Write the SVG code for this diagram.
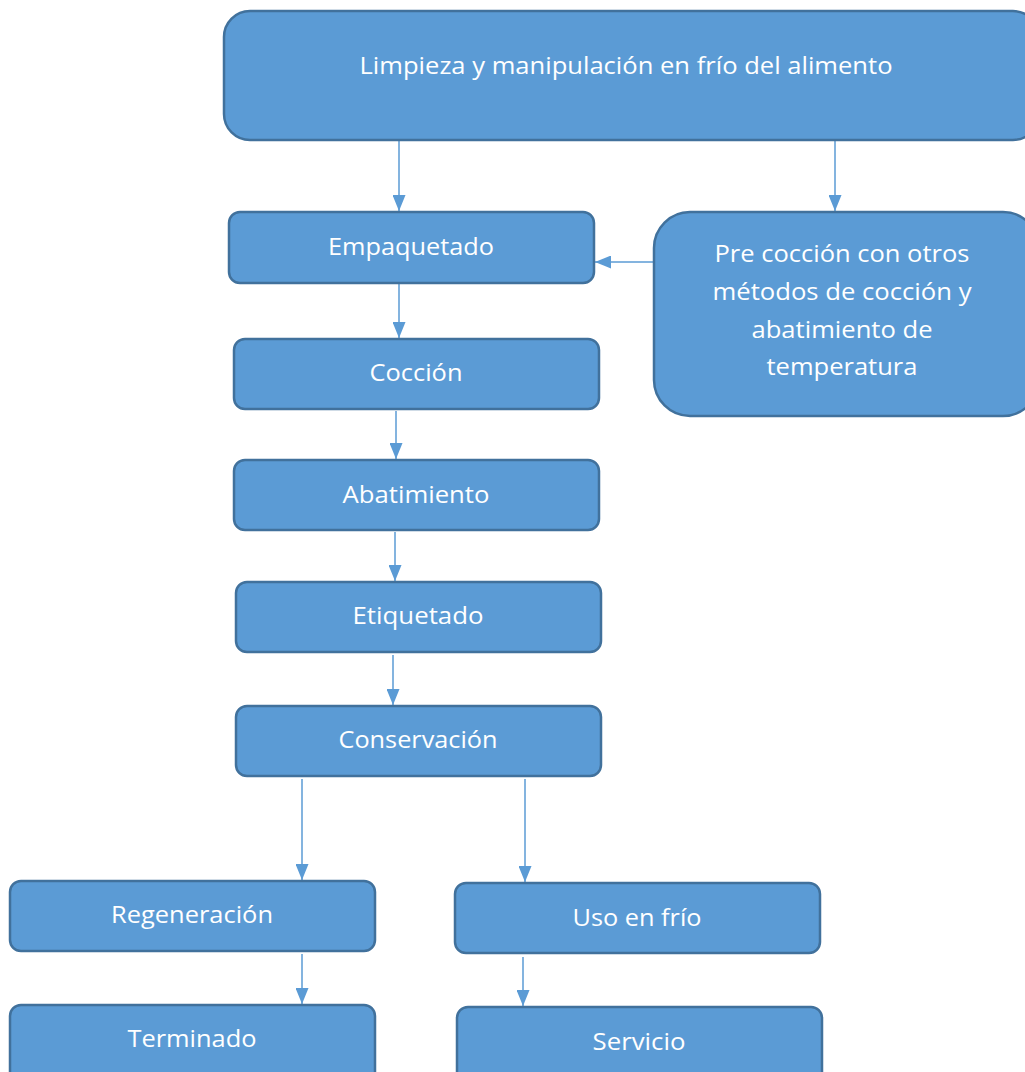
<svg xmlns="http://www.w3.org/2000/svg" width="1025" height="1072" viewBox="0 0 1025 1072">
<defs>
<marker id="ah" viewBox="0 0 16 13" refX="16" refY="6.5" markerUnits="userSpaceOnUse" markerWidth="16" markerHeight="13" orient="auto">
<path d="M0,0 L16,6.5 L0,13 Z" fill="#5B9BD5"/>
</marker>
<style>
.box{fill:#5B9BD5;stroke:#41719C;stroke-width:2.5}
.t{font-family:"Open Sans","Liberation Sans",sans-serif;font-size:24px;fill:#FFFFFF;text-anchor:middle}
.c{stroke:#5B9BD5;stroke-width:1.5;fill:none;marker-end:url(#ah)}
</style>
</defs>
<rect width="1025" height="1072" fill="#FFFFFF"/>
<g id="connectors">
<line class="c" x1="399" y1="141" x2="399" y2="211"/>
<line class="c" x1="835" y1="141" x2="835" y2="211"/>
<line class="c" x1="654" y1="262" x2="595" y2="262"/>
<line class="c" x1="399" y1="284" x2="399" y2="338"/>
<line class="c" x1="396" y1="411" x2="396" y2="459"/>
<line class="c" x1="395" y1="532" x2="395" y2="581"/>
<line class="c" x1="393" y1="655" x2="393" y2="705"/>
<line class="c" x1="302" y1="779" x2="302" y2="880"/>
<line class="c" x1="525" y1="779" x2="525" y2="882"/>
<line class="c" x1="302" y1="954" x2="302" y2="1004"/>
<line class="c" x1="523" y1="957" x2="523" y2="1006"/>
</g>
<g id="n-limpieza">
<rect class="box" x="224" y="11" width="815" height="129" rx="26"/>
<text class="t" x="626" y="74" textLength="533" lengthAdjust="spacingAndGlyphs">Limpieza y manipulación en frío del alimento</text>
</g>
<g id="n-empaquetado">
<rect class="box" x="229" y="212" width="365" height="71" rx="11"/>
<text class="t" x="411" y="255" textLength="166" lengthAdjust="spacingAndGlyphs">Empaquetado</text>
</g>
<g id="n-precoccion">
<rect class="box" x="654" y="212" width="385" height="204" rx="36"/>
<text class="t" x="842" y="262" textLength="255" lengthAdjust="spacingAndGlyphs">Pre cocción con otros</text>
<text class="t" x="842" y="300" textLength="259" lengthAdjust="spacingAndGlyphs">métodos de cocción y</text>
<text class="t" x="842" y="338" textLength="181" lengthAdjust="spacingAndGlyphs">abatimiento de</text>
<text class="t" x="842" y="375" textLength="151" lengthAdjust="spacingAndGlyphs">temperatura</text>
</g>
<g id="n-coccion">
<rect class="box" x="234" y="339" width="365" height="70" rx="11"/>
<text class="t" x="416" y="381" textLength="93" lengthAdjust="spacingAndGlyphs">Cocción</text>
</g>
<g id="n-abatimiento">
<rect class="box" x="234" y="460" width="365" height="70" rx="11"/>
<text class="t" x="416" y="503" textLength="147" lengthAdjust="spacingAndGlyphs">Abatimiento</text>
</g>
<g id="n-etiquetado">
<rect class="box" x="236" y="582" width="365" height="70" rx="11"/>
<text class="t" x="418" y="624" textLength="131" lengthAdjust="spacingAndGlyphs">Etiquetado</text>
</g>
<g id="n-conservacion">
<rect class="box" x="236" y="706" width="365" height="70" rx="11"/>
<text class="t" x="418" y="748" textLength="159" lengthAdjust="spacingAndGlyphs">Conservación</text>
</g>
<g id="n-regeneracion">
<rect class="box" x="10" y="881" width="365" height="70" rx="11"/>
<text class="t" x="192" y="923" textLength="162" lengthAdjust="spacingAndGlyphs">Regeneración</text>
</g>
<g id="n-terminado">
<rect class="box" x="10" y="1005" width="365" height="80" rx="11"/>
<text class="t" x="192" y="1047" textLength="129" lengthAdjust="spacingAndGlyphs">Terminado</text>
</g>
<g id="n-uso">
<rect class="box" x="455" y="883" width="365" height="70" rx="11"/>
<text class="t" x="637" y="926" textLength="129" lengthAdjust="spacingAndGlyphs">Uso en frío</text>
</g>
<g id="n-servicio">
<rect class="box" x="457" y="1007" width="365" height="80" rx="11"/>
<text class="t" x="639" y="1050" textLength="93" lengthAdjust="spacingAndGlyphs">Servicio</text>
</g>
</svg>
